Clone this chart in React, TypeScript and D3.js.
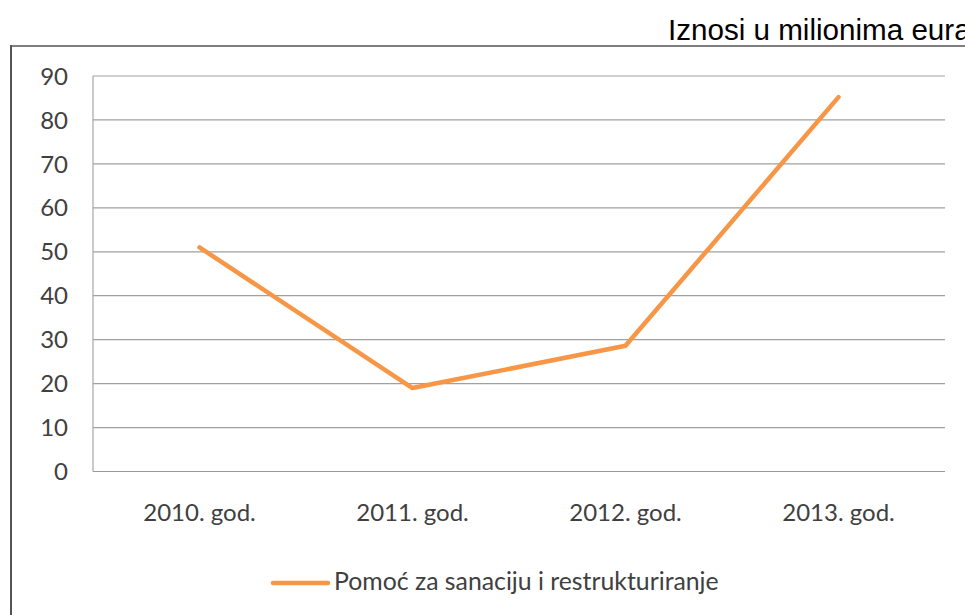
import React, { useEffect, useRef } from 'react';
import * as d3 from 'd3';

const CATEGORIES = ['2010. god.', '2011. god.', '2012. god.', '2013. god.'];
const VALUES = [51, 19, 28.6, 85.2];
const Y_TICKS = [0, 10, 20, 30, 40, 50, 60, 70, 80, 90];
const SERIES_NAME = 'Pomoć za sanaciju i restrukturiranje';
const UNIT_NOTE = 'Iznosi u milionima eura';

const W = 965;
const H = 615;

const App = () => {
  const svgRef = useRef<SVGSVGElement>(null);

  useEffect(() => {
    const svg = d3.select(svgRef.current);
    svg.selectAll('*').remove();

    const margin = { top: 76, right: 20, bottom: 143.5, left: 93 };
    const plotW = W - margin.left - margin.right;
    const plotH = H - margin.top - margin.bottom;
    const font = 'Lato, "Open Sans", sans-serif';

    svg.append('rect').attr('width', W).attr('height', H).attr('fill', '#fff');

    // unit note above the frame
    svg.append('text')
      .attr('x', 668)
      .attr('y', 40)
      .style('font-family', '"Liberation Sans", Arial, sans-serif')
      .style('font-size', '29.6px')
      .style('fill', '#000')
      .text(UNIT_NOTE);

    // chart frame
    svg.append('line')
      .attr('x1', 10).attr('x2', W).attr('y1', 46).attr('y2', 46)
      .attr('stroke', '#7f7f7f').attr('stroke-width', 2);
    svg.append('line')
      .attr('x1', 11).attr('x2', 11).attr('y1', 45).attr('y2', H)
      .attr('stroke', '#555').attr('stroke-width', 2);

    const g = svg.append('g').attr('transform', `translate(${margin.left},${margin.top})`);

    const x = d3.scaleBand().domain(CATEGORIES).range([0, plotW]);
    const y = d3.scaleLinear().domain([0, 90]).range([plotH, 0]);

    g.selectAll('.grid')
      .data(Y_TICKS)
      .enter()
      .append('line')
      .attr('x1', 0).attr('x2', plotW)
      .attr('y1', d => y(d)).attr('y2', d => y(d))
      .attr('stroke', d => (d === 0 ? '#999' : '#a0a0a0'))
      .attr('stroke-width', 1.2);

    g.append('line')
      .attr('x1', 0).attr('x2', 0).attr('y1', 0).attr('y2', plotH)
      .attr('stroke', '#a6a6a6').attr('stroke-width', 1.2);

    g.selectAll('.ytick')
      .data(Y_TICKS)
      .enter()
      .append('text')
      .attr('x', -25)
      .attr('y', d => y(d))
      .attr('dy', '0.36em')
      .attr('text-anchor', 'end')
      .style('font-family', font)
      .style('font-size', '24px')
      .style('fill', '#404040')
      .text(d => d);

    g.selectAll('.xtick')
      .data(CATEGORIES)
      .enter()
      .append('text')
      .attr('x', d => (x(d) as number) + x.bandwidth() / 2)
      .attr('y', 521 - margin.top)
      .attr('text-anchor', 'middle')
      .style('font-family', font)
      .style('font-size', '24px')
      .style('fill', '#404040')
      .text(d => d);

    const line = d3.line<number>()
      .x((_, i) => (x(CATEGORIES[i]) as number) + x.bandwidth() / 2)
      .y(d => y(d));

    g.append('path')
      .datum(VALUES)
      .attr('d', line)
      .attr('fill', 'none')
      .attr('stroke', '#f79646')
      .attr('stroke-width', 4.5)
      .attr('stroke-linejoin', 'round')
      .attr('stroke-linecap', 'round');

    // legend
    const legend = svg.append('g').attr('transform', 'translate(273,583)');
    legend.append('line')
      .attr('x1', 0).attr('x2', 55).attr('y1', 0).attr('y2', 0)
      .attr('stroke', '#f79646').attr('stroke-width', 4.5)
      .attr('stroke-linecap', 'round');
    legend.append('text')
      .attr('x', 61)
      .attr('y', 7)
      .style('font-family', font)
      .style('font-size', '24.8px')
      .style('fill', '#404040')
      .text(SERIES_NAME);
  }, []);

  return (
    <div style={{ position: 'absolute', left: 0, top: 0 }}>
      <svg ref={svgRef} width={W} height={H} style={{ display: 'block' }}></svg>
    </div>
  );
};

export default App;
